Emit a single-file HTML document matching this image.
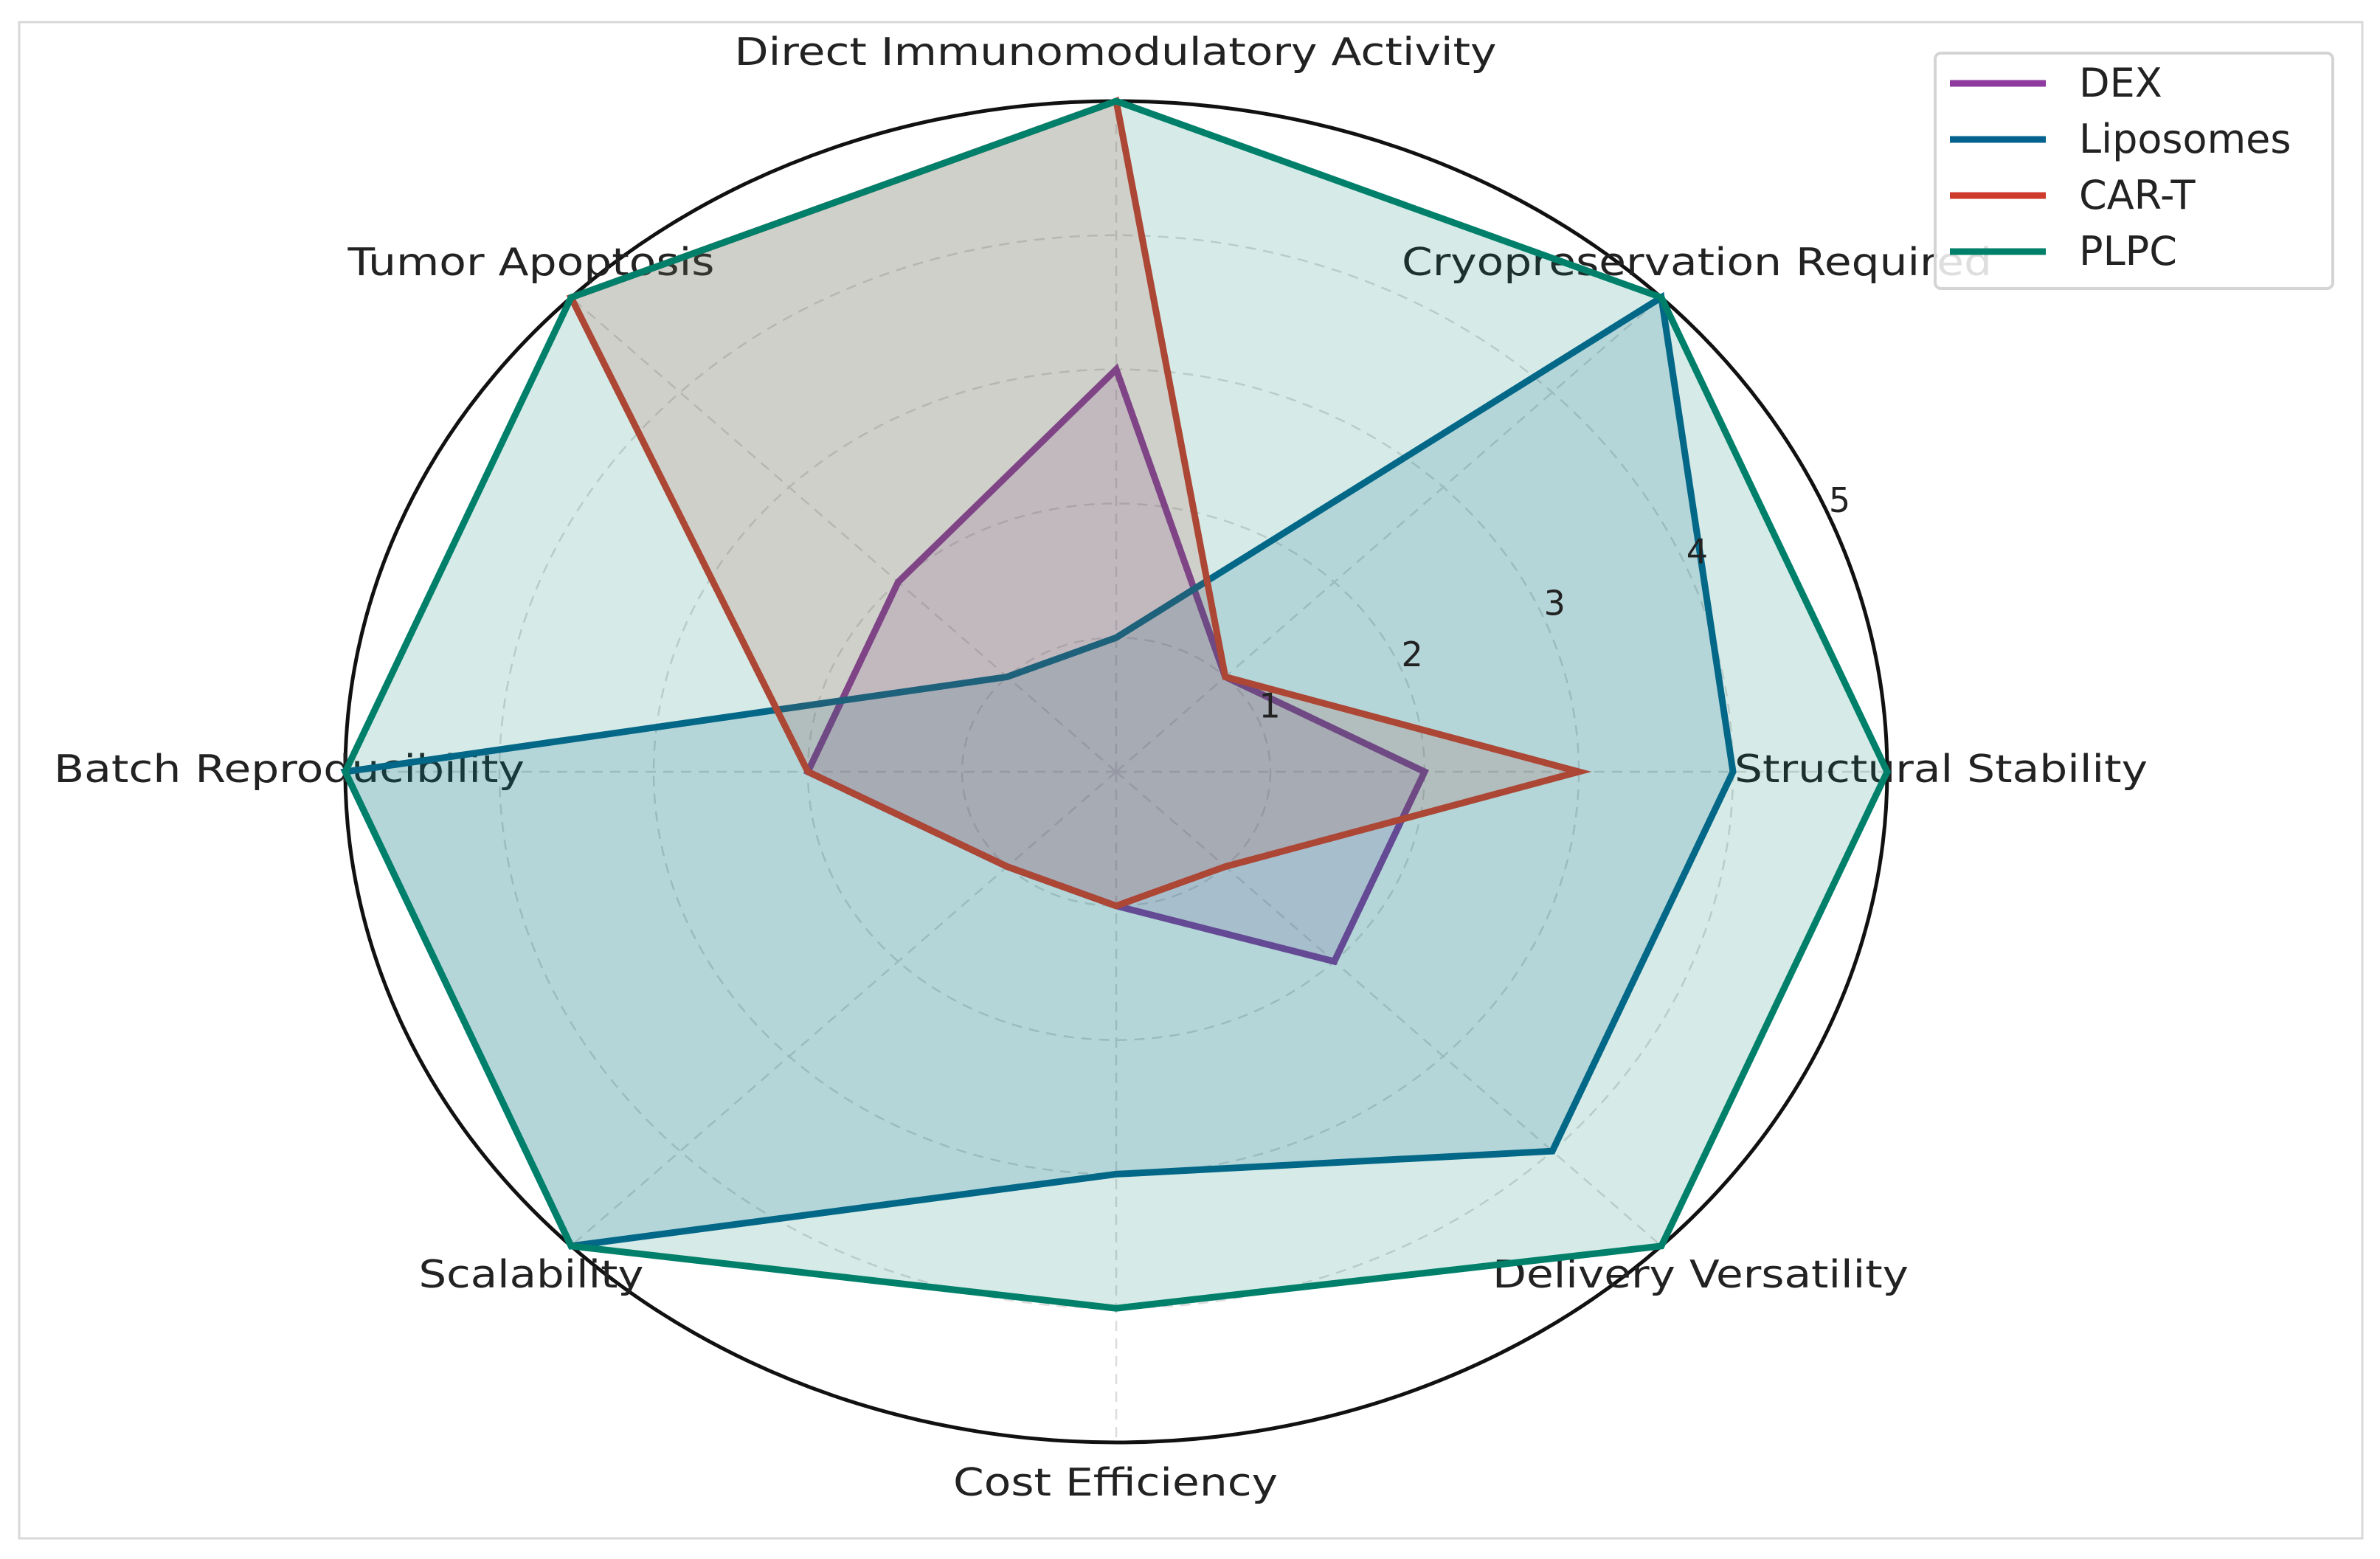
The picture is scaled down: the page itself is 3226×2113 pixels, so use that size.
<!DOCTYPE html>
<html><head><meta charset="utf-8"><style>
html,body{margin:0;padding:0;background:#fff;}
svg{display:block;}
text{font-family:"DejaVu Sans","Liberation Sans",sans-serif;fill:#222;}
</style></head><body>
<svg id="chart" width="3226" height="2113" viewBox="0 0 3226 2113" xmlns="http://www.w3.org/2000/svg">
<rect x="26" y="30" width="3176" height="2055" fill="#fff" stroke="#d8d8d8" stroke-width="3"/>
<g id="grid"></g>
<g id="labels"></g>
<g id="series"></g>
<g id="ticks"></g>
<g id="legend"></g>
</svg>
<script>
const categories = ["Structural Stability","Cryopreservation Required","Direct Immunomodulatory Activity","Tumor Apoptosis","Batch Reproducibility","Scalability","Cost Efficiency","Delivery Versatility"];
const seriesNames = ["DEX","Liposomes","CAR-T","PLPC"];
const dexValues = [2,1,3,2,2,1,1,2];
const liposomesValues = [4,5,1,1,5,5,3,4];
const cartValues = [3,1,5,5,2,1,1,1];
const plpcValues = [5,5,5,5,5,5,4,5];
const radialTicks = [1,2,3,4,5];
const tickLabels = ["1","2","3","4","5"];

const allValues = [dexValues, liposomesValues, cartValues, plpcValues];
const colors = ["#8e3a9f","#04628e","#cd3b2c","#00806a"];
const NS = "http://www.w3.org/2000/svg";
const cx = 1513, cy = 1046, rx = 1045, ry = 909, rMax = 5;
function ang(i){ return i * 2 * Math.PI / categories.length; }
function px(v,i){ return cx + rx * v / rMax * Math.cos(ang(i)); }
function py(v,i){ return cy - ry * v / rMax * Math.sin(ang(i)); }
function mk(tag, attrs, parent){
  const e = document.createElementNS(NS, tag);
  for (const k in attrs) e.setAttribute(k, attrs[k]);
  parent.appendChild(e); return e;
}
const grid = document.getElementById('grid');
radialTicks.forEach((t, k) => {
  const e = mk('ellipse', {cx:cx, cy:cy, rx:rx*t/rMax, ry:ry*t/rMax, fill:'none',
    stroke: t===rMax ? '#111' : '#dcdcdc', 'stroke-width': t===rMax ? 5 : 2.5,
    'stroke-dasharray': t===rMax ? 'none' : '14 10'}, grid);
  
  
});
categories.forEach((c, i) => {
  const l = mk('line', {x1:cx, y1:cy, x2:px(rMax,i), y2:py(rMax,i), stroke:'#dcdcdc', 'stroke-width':2.5, 'stroke-dasharray':'14 10'}, grid);
  
  
});
const ser = document.getElementById('series');
allValues.forEach((vals, s) => {
  const pts = vals.map((v,i) => px(v,i).toFixed(1) + ',' + py(v,i).toFixed(1)).join(' ');
  const f = mk('polygon', {points:pts, fill:colors[s], 'fill-opacity':0.16, stroke:'none'}, ser);
  
  
  const p = mk('polygon', {points:pts, fill:'none', stroke:colors[s], 'stroke-width':9, 'stroke-linejoin':'miter'}, ser);
  
  
});
const tk = document.getElementById('ticks');
radialTicks.forEach((t, k) => {
  const a = Math.PI / 8;
  const x = cx + rx * t / rMax * Math.cos(a) + 15;
  const y = cy - ry * t / rMax * Math.sin(a) - 4;
  const e = mk('text', {x:x, y:y, 'font-size':46, 'text-anchor':'middle'}, tk);
  e.textContent = tickLabels[k];
  
  
});
const lab = document.getElementById('labels');
const labelPos = [[2631,1060,560],[2300,373,800],[1512,88,1033],[720,373,497],[392,1060,638],[720,1745,305],[1512,2027,440],[2305,1745,564]];
categories.forEach((c, i) => {
  const p = labelPos[i];
  const e = mk('text', {x:p[0], y:p[1], 'font-size':52, 'text-anchor':'middle', textLength:p[2], lengthAdjust:'spacingAndGlyphs'}, lab);
  e.textContent = c;
  
  
});
const leg = document.getElementById('legend');
const box = mk('rect', {x:2623, y:72, width:539, height:319, rx:8, fill:'#fff', 'fill-opacity':0.85, stroke:'#d4d4d4', 'stroke-width':4}, leg);


seriesNames.forEach((n, s) => {
  const y = 113 + s * 76;
  const l = mk('line', {x1:2643, y1:y, x2:2773, y2:y, stroke:colors[s], 'stroke-width':9}, leg);
  
  
  const t = mk('text', {x:2818, y:y+18, 'font-size':54}, leg);
  t.textContent = n;
  
  
});
</script>
</body></html>
